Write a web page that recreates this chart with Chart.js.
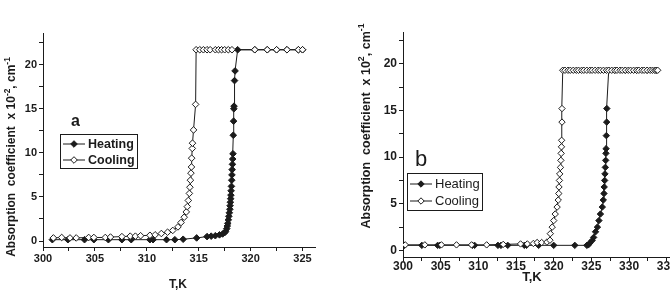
<!DOCTYPE html>
<html>
<head>
<meta charset="utf-8">
<script src="https://cdn.jsdelivr.net/npm/chart.js@4.4.0/dist/chart.umd.min.js"></script>
<style>
  html, body { margin: 0; padding: 0; background: #fff; overflow: hidden; }
  #wrap { position: relative; width: 670px; height: 297px; overflow: hidden; }
  canvas { position: absolute; top: 0; }
  #chartA { left: 0; }
  #chartB { left: 335px; }
</style>
</head>
<body>
<div id="wrap">
  <canvas id="chartA" width="335" height="297"></canvas>
  <canvas id="chartB" width="345" height="297"></canvas>
</div>
<script>
// ---- panel a : temperature (K) and absorption coefficient (x10^-2 cm^-1)
const heatA_T = [300.9, 302.4, 304.0, 304.9, 306.3, 307.6, 308.5, 310.3, 310.6, 311.9, 312.7, 313.5, 314.8, 315.8, 316.2, 316.6, 317.0, 317.3,
  317.5, 317.6, 317.7, 317.75, 317.8, 317.85, 317.9, 317.95, 318.0, 318.02, 318.05, 318.08, 318.1, 318.12, 318.15, 318.18, 318.2, 318.22,
  318.25, 318.27, 318.3, 318.33, 318.36, 318.38, 318.4, 318.45, 318.5, 318.75, 320.4, 321.6, 322.5, 323.5, 324.6, 325.0];
const heatA_k = [0.15, 0.15, 0.15, 0.15, 0.15, 0.15, 0.15, 0.15, 0.15, 0.15, 0.15, 0.2, 0.35, 0.5, 0.55, 0.6, 0.7, 0.8,
  0.95, 1.1, 1.4, 1.7, 2.0, 2.4, 2.8, 3.2, 3.6, 4.0, 4.4, 4.8, 5.2, 5.7, 6.2, 6.9, 7.5, 8.1,
  8.7, 9.3, 9.9, 12.0, 13.6, 15.0, 15.3, 18.2, 19.3, 21.7, 21.7, 21.7, 21.7, 21.7, 21.7, 21.7];
const coolA_T = [301.0, 301.8, 302.6, 303.2, 304.4, 304.9, 306.0, 306.5, 307.6, 308.4, 308.9, 309.4, 310.3, 310.8, 311.4, 312.0, 312.5,
  313.0, 313.3, 313.6, 313.8, 313.9, 314.0, 314.1, 314.15, 314.2, 314.25, 314.3, 314.32, 314.38, 314.4, 314.5, 314.7, 314.75,
  315.1, 315.45, 315.8, 316.1, 316.6, 316.9, 317.2, 317.5, 317.85, 318.2, 320.4, 321.6, 322.5, 323.5, 324.6, 325.0];
const coolA_k = [0.35, 0.4, 0.35, 0.35, 0.4, 0.4, 0.4, 0.45, 0.5, 0.55, 0.55, 0.6, 0.65, 0.7, 0.85, 1.0, 1.2,
  1.6, 2.1, 2.7, 3.3, 3.9, 4.6, 5.4, 6.1, 6.9, 7.7, 8.4, 9.4, 10.5, 11.1, 12.6, 15.5, 21.7,
  21.7, 21.7, 21.7, 21.7, 21.7, 21.7, 21.7, 21.7, 21.7, 21.7, 21.7, 21.7, 21.7, 21.7, 21.7, 21.7];

// ---- panel b
const heatB_T = [300.2, 302.5, 304.6, 304.9, 309.2, 309.5, 312.6, 313.0, 313.9, 316.1, 316.4, 318.0, 320.0, 322.8, 324.4,
  324.6, 324.8, 325.1, 325.3, 325.55, 325.8, 326.0, 326.2, 326.45, 326.58, 326.67, 326.7, 326.76, 326.8, 326.85, 326.9,
  326.93, 326.95, 326.98, 327.03, 327.05, 327.3, 328.1, 329.5, 331.0, 332.4, 333.6];
const heatB_k = [0.55, 0.55, 0.55, 0.55, 0.55, 0.55, 0.55, 0.55, 0.55, 0.55, 0.55, 0.55, 0.55, 0.55, 0.55,
  0.6, 0.8, 1.07, 1.4, 2.0, 2.5, 3.2, 3.9, 4.65, 5.4, 6.1, 6.8, 7.5, 8.2, 8.9, 9.65,
  10.4, 10.9, 12.3, 13.75, 15.2, 19.3, 19.3, 19.3, 19.3, 19.3, 19.3];
const coolB_T = [300.3, 302.9, 305.1, 307.1, 309.1, 311.1, 313.3, 315.6, 316.5, 317.3, 317.8, 318.4, 319.1, 319.5, 319.55,
  319.8, 320.0, 320.2, 320.45, 320.6, 320.67, 320.7, 320.76, 320.8, 320.9, 320.95, 320.99, 321.03, 321.05, 321.1, 321.1,
  321.2, 321.5, 321.9, 322.2, 322.6, 323.0, 323.3, 323.7, 324.0, 324.4, 324.8, 325.1, 325.5, 325.9, 326.2, 326.6, 327.0,
  327.3, 327.7, 328.1, 328.4, 328.8, 329.1, 329.5, 329.9, 330.2, 330.6, 331.0, 331.3, 331.7, 332.0, 332.4, 332.8, 333.1,
  333.4, 333.6, 333.8];
const coolB_k = [0.6, 0.6, 0.6, 0.6, 0.6, 0.6, 0.65, 0.7, 0.7, 0.75, 0.85, 0.85, 0.9, 1.1, 1.8,
  2.5, 3.2, 3.9, 4.65, 5.4, 6.1, 6.8, 7.5, 8.2, 8.9, 9.65, 10.4, 11.1, 11.8, 13.75, 15.2,
  19.3, 19.3, 19.3, 19.3, 19.3, 19.3, 19.3, 19.3, 19.3, 19.3, 19.3, 19.3, 19.3, 19.3, 19.3, 19.3, 19.3,
  19.3, 19.3, 19.3, 19.3, 19.3, 19.3, 19.3, 19.3, 19.3, 19.3, 19.3, 19.3, 19.3, 19.3, 19.3, 19.3, 19.3,
  19.3, 19.3, 19.3];

// tick labels
const xTicksA = [300, 305, 310, 315, 320, 325];
const xTicksB = [300, 305, 310, 315, 320, 325, 330, 335];
const yTicks = [0, 5, 10, 15, 20];

const INK = '#1b1b1b';

const pts = (xs, ys) => xs.map((x, i) => ({ x, y: ys[i] }));
// majors plus a minor tick half way between them
const withMinor = (ticks) => {
  const out = [];
  ticks.forEach((v, i) => {
    out.push({ value: v });
    out.push({ value: v + (ticks[1] - ticks[0]) / 2 });
  });
  return out;
};

function series(label, xs, ys, filled, order, r) {
  return {
    label,
    data: pts(xs, ys),
    order,
    borderColor: INK,
    borderWidth: 1,
    pointStyle: 'rectRot',
    pointRadius: r,
    pointBorderWidth: 1,
    pointBorderColor: INK,
    pointBackgroundColor: filled ? INK : '#fff',
    tension: 0
  };
}

// draws text with raised small parts, e.g. exponents
function richText(ctx, parts, size, weight) {
  let w = 0;
  parts.forEach(p => {
    ctx.font = `${weight} ${p.sup ? size * 0.7 : size}px "Liberation Sans", Arial, sans-serif`;
    w += ctx.measureText(p.t).width;
  });
  let x = -w / 2;
  parts.forEach(p => {
    ctx.font = `${weight} ${p.sup ? size * 0.7 : size}px "Liberation Sans", Arial, sans-serif`;
    ctx.fillText(p.t, x, p.sup ? -size * 0.4 : 0);
    x += ctx.measureText(p.t).width;
  });
}

const panelNotes = {
  id: 'panelNotes',
  afterDraw(chart, args, o) {
    const ctx = chart.ctx;
    ctx.save();
    ctx.fillStyle = INK;
    ctx.strokeStyle = INK;
    ctx.textBaseline = 'middle';

    // y title
    ctx.save();
    ctx.translate(o.yTitle.x, o.yTitle.y);
    ctx.rotate(-Math.PI / 2);
    richText(ctx, o.yTitle.parts, o.yTitle.size, 'bold');
    ctx.restore();

    // x title
    ctx.save();
    ctx.translate(o.xTitle.x, o.xTitle.y);
    richText(ctx, [{ t: 'T,K' }], o.xTitle.size, 'bold');
    ctx.restore();

    // panel letter
    ctx.textAlign = 'left';
    ctx.font = o.letter.font;
    ctx.fillText(o.letter.t, o.letter.x, o.letter.y);

    // legend
    const L = o.legend;
    ctx.lineWidth = 1;
    ctx.strokeRect(L.x + 0.5, L.y + 0.5, L.w, L.h);
    ctx.font = L.font;
    chart.data.datasets.forEach((ds, i) => {
      const cy = L.y + L.row0 + i * L.rowGap;
      ctx.beginPath();
      ctx.moveTo(L.x + 3, cy);
      ctx.lineTo(L.x + 3 + L.line, cy);
      ctx.stroke();
      ctx.fillStyle = ds.pointBackgroundColor;
      Chart.helpers.drawPoint(ctx, { pointStyle: 'rectRot', radius: ds.pointRadius, borderWidth: 1 },
        L.x + 3 + L.line / 2, cy);
      ctx.fillStyle = INK;
      ctx.fillText(ds.label, L.x + 6 + L.line, cy + 0.5);
    });
    ctx.restore();
  }
};

function axes(xTicks, xMin, xMax, yMin, yMax, leftW, bottomH, tickSize, xPad) {
  const tickFont = { family: '"Liberation Sans", Arial, sans-serif', size: tickSize, weight: 'bold' };
  return {
    x: {
      type: 'linear', min: xMin, max: xMax,
      border: { color: INK, width: 1 },
      grid: { drawOnChartArea: false, tickLength: 4, tickColor: INK },
      afterBuildTicks: s => { s.ticks = withMinor(xTicks).filter(t => t.value <= xMax); },
      afterFit: s => { s.height = bottomH; },
      ticks: {
        autoSkip: false, maxRotation: 0, color: INK, font: tickFont, padding: xPad,
        callback: v => xTicks.includes(v) ? String(v) : ''
      }
    },
    y: {
      type: 'linear', min: yMin, max: yMax,
      border: { color: INK, width: 1 },
      grid: { drawOnChartArea: false, tickLength: 4, tickColor: INK },
      afterBuildTicks: s => { s.ticks = withMinor(yTicks).filter(t => t.value <= yMax); },
      afterFit: s => { s.width = leftW; },
      ticks: {
        autoSkip: false, color: INK, font: tickFont, padding: 2,
        callback: v => yTicks.includes(v) ? String(v) : ''
      }
    }
  };
}

new Chart(document.getElementById('chartA'), {
  type: 'line',
  data: {
    datasets: [
      series('Heating', heatA_T, heatA_k, true, 1, 3.3),
      series('Cooling', coolA_T, coolA_k, false, 0, 3.3)
    ]
  },
  options: {
    responsive: false,
    animation: false,
    layout: { padding: { top: 33, right: 20, left: 0, bottom: 0 } },
    scales: axes(xTicksA, 300, 326.2, -0.68, 23.6, 43, 50, 11, 1),
    plugins: {
      legend: { display: false },
      tooltip: { enabled: false },
      panelNotes: {
        yTitle: { x: 12, y: 157, size: 12,
          parts: [{ t: 'Absorption  coefficient  x 10' }, { t: '-2', sup: true }, { t: ', cm' }, { t: '-1', sup: true }] },
        xTitle: { x: 178, y: 285, size: 12 },
        letter: { t: 'a', x: 71, y: 122, font: 'bold 16px "Liberation Sans", Arial, sans-serif' },
        legend: { x: 60, y: 134, w: 77, h: 34, row0: 10, rowGap: 16, line: 22,
          font: 'bold 12.5px "Liberation Sans", Arial, sans-serif' }
      }
    }
  },
  plugins: [panelNotes]
});

new Chart(document.getElementById('chartB'), {
  type: 'line',
  data: {
    datasets: [
      series('Heating', heatB_T, heatB_k, true, 1, 3.2),
      series('Cooling', coolB_T, coolB_k, false, 0, 3.2)
    ]
  },
  options: {
    responsive: false,
    animation: false,
    layout: { padding: { top: 32, right: 11, left: 0, bottom: 0 } },
    scales: axes(xTicksB, 300, 335.3, -0.7, 23.4, 68, 40, 12, -2),
    plugins: {
      legend: { display: false },
      tooltip: { enabled: false },
      panelNotes: {
        yTitle: { x: 32, y: 126, size: 12.5,
          parts: [{ t: 'Absorption  coefficient  x 10' }, { t: '2', sup: true }, { t: ', cm' }, { t: '-1', sup: true }] },
        xTitle: { x: 197, y: 277, size: 13 },
        letter: { t: 'b', x: 80, y: 160, font: '22px "Liberation Sans", Arial, sans-serif' },
        legend: { x: 72, y: 173, w: 75, h: 37, row0: 11, rowGap: 17, line: 22,
          font: '13px "Liberation Sans", Arial, sans-serif' }
      }
    }
  },
  plugins: [panelNotes]
});
</script>
</body>
</html>
